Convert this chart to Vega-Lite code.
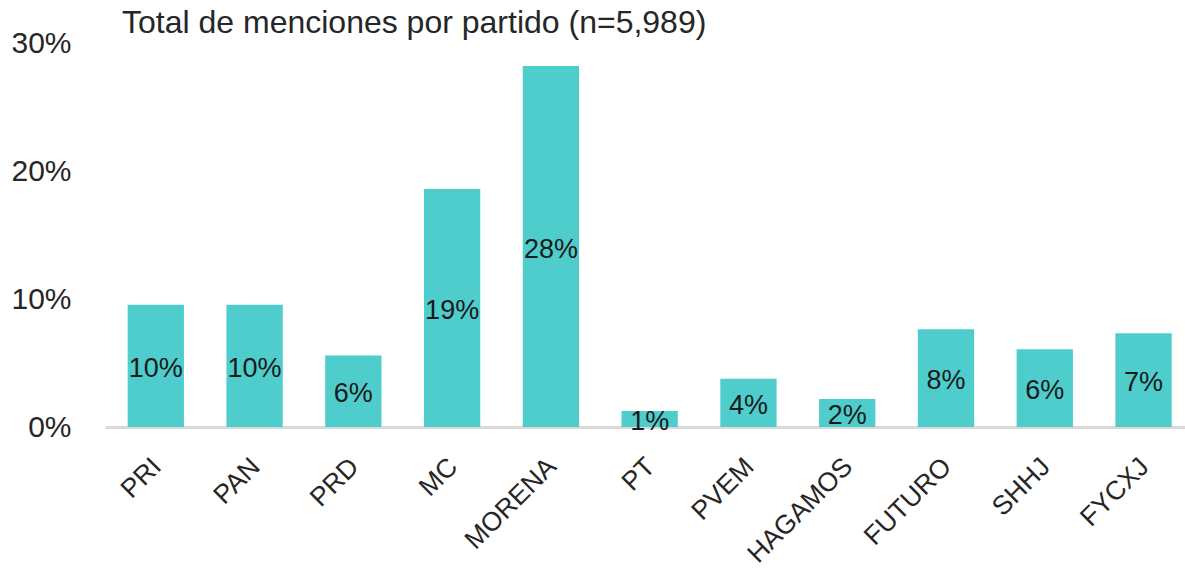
{
  "$schema": "https://vega.github.io/schema/vega-lite/v6.json",
  "width": 1080,
  "height": 384,
  "autosize": {"type": "none"},
  "padding": {"left": 105, "top": 43, "right": 0, "bottom": 144},
  "background": "white",
  "config": {"view": {"stroke": null}, "font": "Liberation Sans"},
  "title": {
    "text": "Total de menciones por partido (n=5,989)",
    "anchor": "start",
    "frame": "group",
    "dx": 17,
    "offset": -12,
    "fontSize": 32,
    "font": "Liberation Sans",
    "fontWeight": "normal",
    "color": "#262626"
  },
  "data": {
    "values": [
      {"partido": "PRI", "pct": 0.0955},
      {"partido": "PAN", "pct": 0.0955},
      {"partido": "PRD", "pct": 0.0558},
      {"partido": "MC", "pct": 0.186},
      {"partido": "MORENA", "pct": 0.282},
      {"partido": "PT", "pct": 0.0125},
      {"partido": "PVEM", "pct": 0.0376},
      {"partido": "HAGAMOS", "pct": 0.0219},
      {"partido": "FUTURO", "pct": 0.0764},
      {"partido": "SHHJ", "pct": 0.0608},
      {"partido": "FYCXJ", "pct": 0.0733}
    ]
  },
  "encoding": {
    "x": {
      "field": "partido",
      "type": "nominal",
      "sort": null,
      "title": null,
      "scale": {"paddingInner": 0.43, "paddingOuter": 0.182, "align": 0.63},
      "axis": {
        "labelAngle": -45,
        "labelFontSize": 26.5,
        "labelColor": "#262626",
        "labelFont": "Liberation Sans",
        "ticks": false,
        "labelPadding": 26,
        "labelOffset": -8,
        "domainColor": "#D9D9D9",
        "domainWidth": 3,
        "grid": false
      }
    }
  },
  "layer": [
    {
      "mark": {"type": "bar", "color": "#4ECDCC"},
      "encoding": {
        "y": {
          "field": "pct",
          "type": "quantitative",
          "title": null,
          "scale": {"domain": [0, 0.3]},
          "axis": {
            "values": [0, 0.1, 0.2, 0.3],
            "format": ".0%",
            "labelFontSize": 30,
            "labelColor": "#262626",
            "labelFont": "Liberation Sans",
            "ticks": false,
            "domain": false,
            "grid": false,
            "labelPadding": 34
          }
        }
      }
    },
    {
      "mark": {"type": "text", "fontSize": 27, "font": "Liberation Sans", "color": "#1a1a1a", "dy": 3, "baseline": "middle"},
      "encoding": {
        "y": {"field": "pct", "type": "quantitative", "scale": {"domain": [0, 0.6]}, "axis": null},
        "text": {"field": "pct", "type": "quantitative", "format": ".0%"}
      }
    }
  ],
  "resolve": {"scale": {"y": "independent"}}
}
